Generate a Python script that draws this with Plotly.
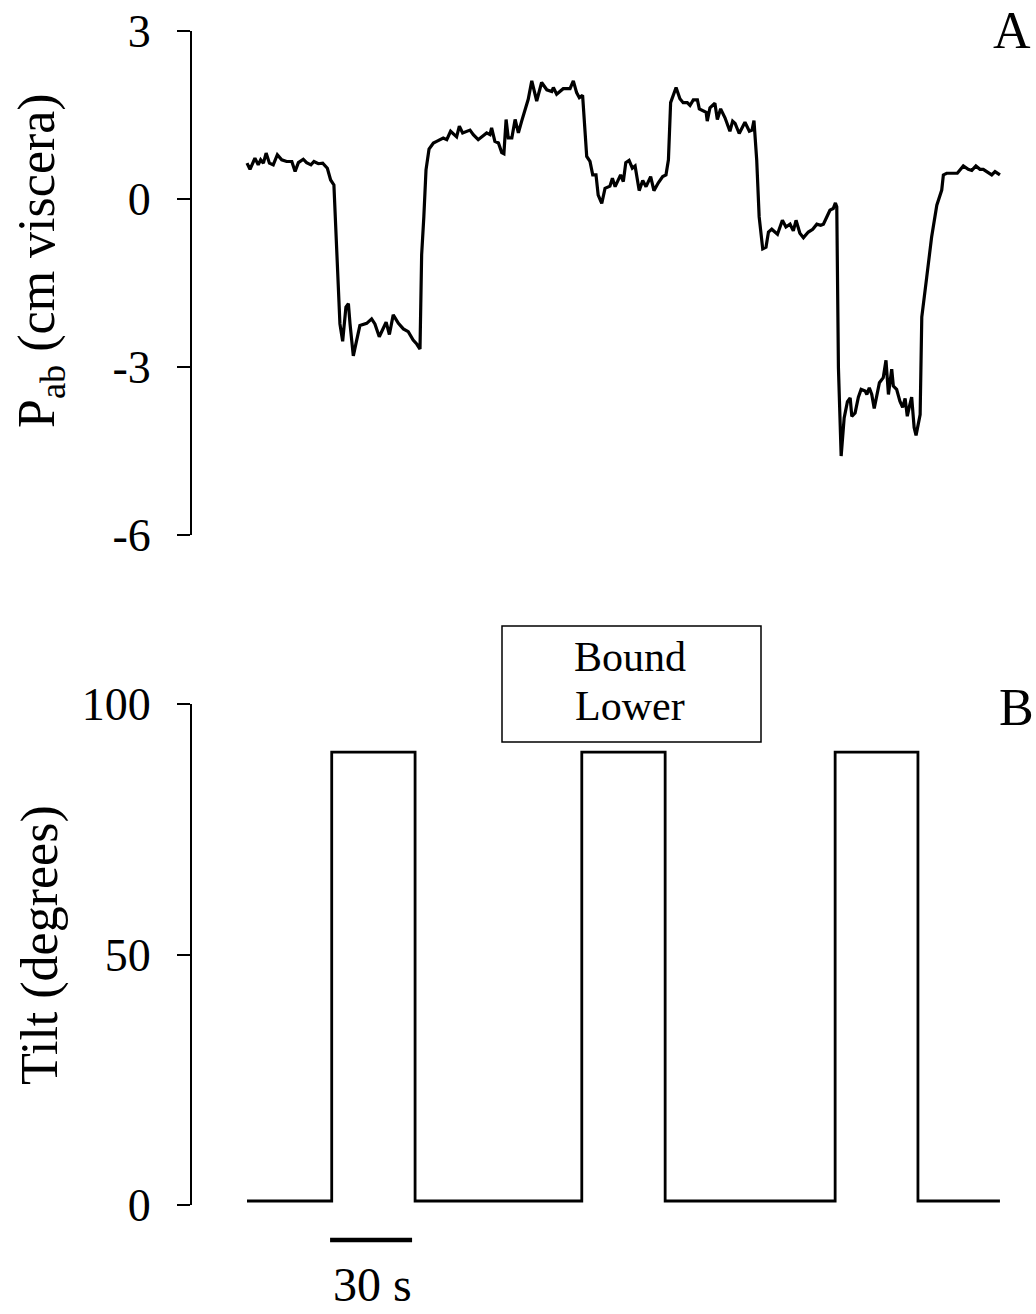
import plotly.graph_objects as go

# ---- data (time in seconds, pressure in cm viscera, tilt in degrees) ----
pab_time = [0.0, 1.1, 2.9, 4.1, 5.0, 6.0, 7.0, 8.2, 9.6, 11.1, 12.7, 14.5, 16.4, 17.6, 18.8,
            20.6, 21.8, 23.4, 24.5, 26.1, 27.7, 29.4, 30.6, 31.8, 34.0, 35.0, 36.2, 37.1, 37.7,
            38.9, 40.1, 41.3, 43.8, 45.6, 46.8, 48.4, 50.9, 52.1, 53.5, 55.4, 57.2, 59.0, 60.8,
            62.1, 63.3, 63.9, 64.7, 65.5, 66.6, 68.2, 69.4, 71.8, 73.1, 74.5, 76.7, 77.7, 78.9,
            81.6, 82.8, 84.6, 87.7, 88.9, 89.5, 90.7, 92.0, 93.2, 94.0, 94.8, 95.6, 96.9, 98.1,
            99.3, 100.5, 101.7, 102.9, 104.2, 106.0, 107.8, 109.7, 111.5, 112.1, 113.3, 115.7,
            118.2, 119.4, 120.6, 121.6, 122.8, 124.3, 125.5, 126.5, 127.7, 128.5, 129.8, 131.0,
            132.8, 133.7, 134.7, 136.7, 137.7, 138.6, 139.8, 141.0, 142.0, 143.5, 144.8, 146.0,
            147.7, 148.9, 150.5, 152.1, 153.3, 154.2, 155.0, 157.0, 158.4, 159.6, 161.1, 162.1,
            163.3, 164.8, 165.5, 167.0, 168.0, 168.4, 169.4, 171.2, 172.1, 173.3, 174.9, 176.7,
            177.7, 178.6, 180.1, 182.2, 183.8, 184.8, 185.5, 186.5, 187.4, 188.7, 189.9, 190.8,
            192.0, 194.1, 195.9, 197.2, 198.7, 199.9, 200.9, 202.3, 203.6, 205.4, 207.0, 208.5,
            209.9, 210.9, 212.1, 213.3, 214.5, 215.3, 215.8, 216.4, 217.4, 218.5, 219.7, 220.7,
            221.3, 222.5, 223.7, 224.7, 226.2, 226.8, 227.7, 228.6, 229.5, 230.4, 231.4, 232.8,
            233.8, 234.7, 235.9, 236.5, 237.7, 238.9, 239.9, 240.8, 241.6, 242.4, 243.2, 244.1,
            244.8, 246.3, 246.9, 248.7, 250.5, 252.4, 254.2, 254.8, 256.0, 259.9, 262.1, 263.9,
            265.2, 266.7, 268.2, 269.4, 271.3, 272.5, 273.7, 275.5]
pab_value = [0.64, 0.53, 0.73, 0.61, 0.70, 0.64, 0.82, 0.64, 0.61, 0.79, 0.70, 0.67, 0.67, 0.49, 0.65,
             0.71, 0.65, 0.61, 0.67, 0.63, 0.64, 0.55, 0.34, 0.25, -2.23, -2.54, -1.93, -1.87, -2.23,
             -2.80, -2.53, -2.26, -2.22, -2.14, -2.23, -2.46, -2.20, -2.42, -2.07, -2.22, -2.32, -2.37, -2.52,
             -2.59, -2.68, -1.00, -0.32, 0.52, 0.89, 1.00, 1.03, 1.09, 1.06, 1.21, 1.11, 1.30, 1.18,
             1.23, 1.15, 1.06, 1.18, 1.15, 1.27, 1.03, 1.00, 0.83, 0.81, 1.42, 1.09, 1.09, 1.42,
             1.18, 1.39, 1.60, 1.78, 2.11, 1.75, 2.08, 1.95, 1.92, 1.99, 1.87, 1.97,
             1.97, 2.11, 1.90, 1.81, 1.85, 0.76, 0.67, 0.43, 0.43, 0.07, -0.08, 0.19,
             0.23, 0.37, 0.22, 0.43, 0.31, 0.65, 0.69, 0.55, 0.59, 0.15, 0.33, 0.22,
             0.40, 0.15, 0.29, 0.40, 0.43, 0.70, 1.72, 1.99, 1.79, 1.72, 1.72, 1.67,
             1.77, 1.77, 1.61, 1.57, 1.55, 1.39, 1.63, 1.71, 1.42, 1.61, 1.45, 1.21,
             1.39, 1.35, 1.17, 1.37, 1.21, 1.23, 1.40, 0.70, -0.32, -0.89, -0.86, -0.59,
             -0.54, -0.63, -0.38, -0.50, -0.45, -0.57, -0.38, -0.61, -0.69, -0.59, -0.54, -0.45,
             -0.47, -0.45, -0.32, -0.20, -0.17, -0.07, -0.14, -3.01, -4.59, -3.91, -3.62, -3.55,
             -3.88, -3.82, -3.54, -3.40, -3.43, -3.49, -3.37, -3.49, -3.74, -3.52, -3.28, -3.19,
             -2.88, -3.49, -3.04, -3.34, -3.40, -3.61, -3.72, -3.56, -3.88, -3.70, -3.54, -4.08,
             -4.22, -3.85, -2.11, -1.40, -0.68, -0.11, 0.16, 0.43, 0.46, 0.46, 0.59, 0.53,
             0.51, 0.59, 0.53, 0.53, 0.47, 0.43, 0.49, 0.43]

tilt_time = [0, 31.0, 31.0, 61.5, 61.5, 122.5, 122.5, 153.0, 153.0, 215.2, 215.2, 245.5, 245.5, 275.5]
tilt_deg = [0.8, 0.8, 90.4, 90.4, 0.8, 0.8, 90.4, 90.4, 0.8, 0.8, 90.4, 90.4, 0.8, 0.8]

pab_ticks = [3, 0, -3, -6]
pab_ticktext = ["3", "0", "-3", "-6"]
tilt_ticks = [0, 50, 100]
tilt_ticktext = ["0", "50", "100"]

scalebar_time = [30.4, 60.4]
scalebar_label = "30 s"
box_lines = ["Bound", "Lower"]

# ---- layout helpers (pixel -> paper) ----
W, H = 1036, 1314
FONT = "Liberation Serif, Times New Roman, serif"


def px(x):
    return x / W


def py(y):
    return 1 - y / H


fig = go.Figure()

fig.add_trace(go.Scatter(x=pab_time, y=pab_value, mode="lines",
                         line=dict(color="black", width=3.2), xaxis="x", yaxis="y",
                         showlegend=False, hoverinfo="skip"))
fig.add_trace(go.Scatter(x=tilt_time, y=tilt_deg, mode="lines",
                         line=dict(color="black", width=2.8), xaxis="x2", yaxis="y2",
                         showlegend=False, hoverinfo="skip"))

xr = [(192 - 247) / 2.733, (1036 - 247) / 2.733]

axis_common = dict(showline=True, linecolor="black", linewidth=2,
                   ticks="outside", ticklen=13, tickwidth=2, tickcolor="black",
                   showgrid=False, zeroline=False, ticklabelstandoff=17, automargin=False,
                   tickfont=dict(family=FONT, size=46, color="black"))

fig.update_layout(
    width=W, height=H,
    margin=dict(l=0, r=0, t=0, b=0, pad=0),
    paper_bgcolor="white", plot_bgcolor="white",
    font=dict(family=FONT, color="black", size=44),
    xaxis=dict(domain=[px(192), 1], range=xr, visible=False, anchor="y", automargin=False),
    xaxis2=dict(domain=[px(192), 1], range=xr, visible=False, anchor="y2", automargin=False),
    yaxis=dict(domain=[py(535), py(31)], range=[-6, 3], anchor="x",
               tickvals=pab_ticks, ticktext=pab_ticktext, **axis_common),
    yaxis2=dict(domain=[py(1205), py(704)], range=[0, 100], anchor="x2",
                tickvals=tilt_ticks, ticktext=tilt_ticktext, **axis_common),
)

annotations = [
    dict(x=px(40), y=py(261), xref="paper", yref="paper", text="P<sub>ab</sub> (cm viscera)",
         textangle=-90, showarrow=False, font=dict(family=FONT, size=52, color="black"),
         xanchor="center", yanchor="middle"),
    dict(x=px(40), y=py(945), xref="paper", yref="paper", text="Tilt (degrees)",
         textangle=-90, showarrow=False, font=dict(family=FONT, size=52, color="black"),
         xanchor="center", yanchor="middle"),
    dict(x=px(1012), y=py(31), xref="paper", yref="paper", text="A", showarrow=False,
         font=dict(family=FONT, size=52, color="black"), xanchor="center", yanchor="middle"),
    dict(x=px(1016), y=py(707), xref="paper", yref="paper", text="B", showarrow=False,
         font=dict(family=FONT, size=52, color="black"), xanchor="center", yanchor="middle"),
    dict(x=px(630), y=py(657), xref="paper", yref="paper", text=box_lines[0], showarrow=False,
         font=dict(family=FONT, size=42, color="black"), xanchor="center", yanchor="middle"),
    dict(x=px(630), y=py(706), xref="paper", yref="paper", text=box_lines[1], showarrow=False,
         font=dict(family=FONT, size=42, color="black"), xanchor="center", yanchor="middle"),
    dict(x=px(372), y=py(1284), xref="paper", yref="paper", text=scalebar_label, showarrow=False,
         font=dict(family=FONT, size=48, color="black"), xanchor="center", yanchor="middle",
         borderpad=0),
]
fig.update_layout(annotations=annotations)

fig.add_shape(type="rect", xref="paper", yref="paper",
              x0=px(502), x1=px(761), y0=py(742), y1=py(626),
              line=dict(color="black", width=1.5), fillcolor="rgba(0,0,0,0)")
# 30 s scale bar, drawn in the tilt panel's time units
fig.add_shape(type="line", xref="x2", yref="paper",
              x0=scalebar_time[0], x1=scalebar_time[1], y0=py(1240), y1=py(1240),
              line=dict(color="black", width=4.5))

fig.write_html("out.html")
